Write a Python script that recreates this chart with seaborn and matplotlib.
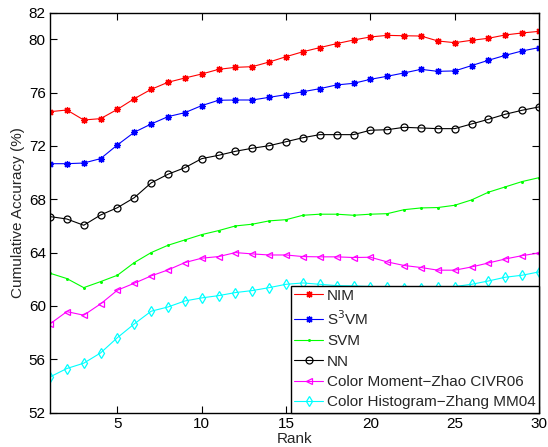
import numpy as np
import pandas as pd
import matplotlib
matplotlib.use("Agg")
import matplotlib.pyplot as plt
import seaborn as sns

ranks = list(range(1, 31))
nim = [74.57, 74.7, 73.95, 74.05, 74.75, 75.55, 76.25, 76.78, 77.1, 77.4,
       77.75, 77.9, 77.95, 78.3, 78.7, 79.07, 79.38, 79.68, 79.95, 80.18,
       80.3, 80.27, 80.25, 79.88, 79.75, 79.93, 80.08, 80.33, 80.48, 80.6]
s3vm = [70.67, 70.67, 70.72, 71.05, 72.08, 73.03, 73.65, 74.2, 74.5, 75.03,
        75.43, 75.45, 75.45, 75.65, 75.85, 76.07, 76.3, 76.58, 76.7, 77.0,
        77.23, 77.48, 77.75, 77.6, 77.63, 78.03, 78.43, 78.8, 79.13, 79.38]
svm = [62.45, 62.05, 61.37, 61.82, 62.3, 63.25, 64.0, 64.55, 64.95, 65.35,
       65.65, 66.0, 66.13, 66.38, 66.47, 66.8, 66.88, 66.88, 66.8, 66.88,
       66.92, 67.22, 67.35, 67.38, 67.55, 67.95, 68.53, 68.93, 69.33, 69.62]
nn = [66.7, 66.52, 66.05, 66.82, 67.37, 68.12, 69.23, 69.88, 70.37, 71.05,
      71.3, 71.6, 71.83, 72.02, 72.32, 72.62, 72.85, 72.85, 72.85, 73.18,
      73.22, 73.4, 73.35, 73.3, 73.3, 73.65, 74.0, 74.38, 74.68, 74.93]
moment = [58.65, 59.57, 59.3, 60.15, 61.18, 61.7, 62.25, 62.7, 63.25, 63.58,
          63.7, 64.0, 63.9, 63.82, 63.82, 63.7, 63.68, 63.68, 63.63, 63.65,
          63.3, 63.03, 62.88, 62.68, 62.68, 62.92, 63.22, 63.52, 63.77, 63.97]
histogram = [54.67, 55.3, 55.7, 56.47, 57.62, 58.65, 59.6, 59.92, 60.37, 60.6,
             60.77, 61.0, 61.15, 61.37, 61.62, 61.72, 61.62, 61.52, 61.5, 61.45,
             61.4, 61.35, 61.35, 61.4, 61.45, 61.62, 61.87, 62.15, 62.3, 62.55]

labels = ["NIM", "S$^3$VM", "SVM", "NN", "Color Moment\u2212Zhao CIVR06",
          "Color Histogram\u2212Zhang MM04"]
series = [nim, s3vm, svm, nn, moment, histogram]
colors = ["#ff0000", "#0000ff", "#00ff00", "#000000", "#ff00ff", "#00ffff"]
markers = [(8, 2, 0), (8, 2, 0), ".", "o", "<", "d"]
filled = [True, True, True, False, False, False]
msizes = [5, 5, 2.5, 5, 5, 5.5]

yticks = [52, 56, 60, 64, 68, 72, 76, 80, 82]
xticks = [5, 10, 15, 20, 25, 30]

sns.set_style("ticks")
plt.rcParams["font.family"] = ["Liberation Sans", "DejaVu Sans"]
plt.rcParams["xtick.direction"] = "in"
plt.rcParams["ytick.direction"] = "in"

fig = plt.figure(figsize=(5.48, 4.47), dpi=100)
ax = fig.add_axes([50/548, 1-412.5/447, 489/548, 399.8/447])

for vals, lab, c, m, f, ms in zip(series, labels, colors, markers, filled, msizes):
    df = pd.DataFrame({"Rank": ranks, "Acc": vals})
    sns.lineplot(data=df, x="Rank", y="Acc", ax=ax, color=c, marker=m,
                 markersize=ms, markerfacecolor=(c if f else "none"),
                 markeredgecolor=c, markeredgewidth=0.9, linewidth=0.8,
                 label=lab)

ax.set_xlim(1, 30)
ax.set_ylim(52, 82)
ax.set_xticks(xticks)
ax.set_yticks(yticks)
ax.tick_params(axis="both", labelsize=11, length=5, width=0.8,
               top=True, right=True, colors="black", pad=3)
for s in ax.spines.values():
    s.set_visible(True)
    s.set_linewidth(1.0)
    s.set_color("black")
ax.set_xlabel("Rank", fontsize=11, labelpad=1)
ax.set_ylabel("Cumulative Accuracy (%)", fontsize=11, labelpad=3)

leg = ax.legend(loc="lower right", borderaxespad=0, fontsize=11,
                frameon=True, fancybox=False, framealpha=1,
                edgecolor="black", handlelength=1.9, handletextpad=0.25,
                labelspacing=0.42, borderpad=0.2)
leg.get_frame().set_linewidth(1.0)

fig.savefig("out.png", dpi=100)
